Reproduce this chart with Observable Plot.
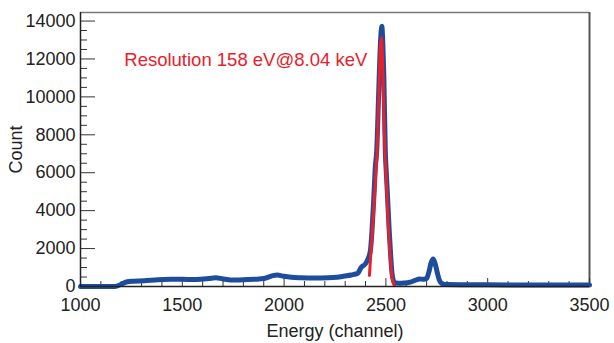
<!DOCTYPE html>
<html><head><meta charset="utf-8">
<script src="https://cdn.jsdelivr.net/npm/d3@7"></script>
<script src="https://cdn.jsdelivr.net/npm/@observablehq/plot@0.6"></script>
<style>body{margin:0;background:#fff}</style>
</head><body><div id="chart"></div>
<script>
const blueChannel = [1000,1100,1170,1200,1230,1260,1312,1380,1443,1500,1550,1590,1630,1664,1700,1755,1800,1853,1902,1940,1968,1990,2017,2050,2083,2150,2214,2260,2296,2330,2362,2378,2400,2412,2424,2432,2440,2448,2455,2461,2467,2474,2480,2485,2490,2497,2503,2509,2516,2522,2530,2542,2560,2590,2620,2645,2665,2685,2700,2712,2722,2732,2742,2752,2762,2775,2800,2900,3000,3200,3500];
const blueCount   = [0,0,0,120,250,280,300,360,380,380,370,380,420,460,400,340,350,380,420,560,600,560,510,470,460,450,460,490,550,610,700,1000,1200,1450,1900,3000,4540,6300,7180,9000,11050,13000,13720,12800,11050,7180,5800,4540,3000,1900,700,200,170,180,230,330,400,380,420,800,1250,1450,1200,750,350,160,100,90,90,80,80];
const redChannel = [2419,2427,2435,2443,2450,2457,2462,2468,2474,2478,2482,2486,2490,2495,2500,2506,2512,2519,2528,2537,2542];
const redCount   = [580,1900,3200,4540,5900,7180,9000,11050,12800,13100,12500,11050,9000,7180,6000,4540,3200,1900,700,150,50];
const xDomain = [1000, 3500];
const yDomain = [0, 14450];
const xMajor = [1000,1500,2000,2500,3000,3500];
const xMinor = [1100,1200,1300,1400,1600,1700,1800,1900,2100,2200,2300,2400,2600,2700,2800,2900,3100,3200,3300,3400];
const yMajor = [0,2000,4000,6000,8000,10000,12000,14000];
const yMinor = [500,1000,1500,2500,3000,3500,4500,5000,5500,6500,7000,7500,8500,9000,9500,10500,11000,11500,12500,13000,13500];
const noteText = ["Resolution 158 eV@8.04 keV"];
const noteX = [1215];
const noteY = [11950];

const W = 614, H = 343, mL = 80, mR = 25, mT = 12, mB = 57;
const pw = W - mL - mR, ph = H - mT - mB;
const blue = blueChannel.map((c, i) => ({c, v: blueCount[i]}));
const red = redChannel.map((c, i) => ({c, v: redCount[i]}));
const note = noteText.map((t, i) => ({t, x: noteX[i], y: noteY[i]}));

const chart = Plot.plot({
  width: W, height: H,
  marginLeft: mL, marginRight: mR, marginTop: mT, marginBottom: mB,
  style: {fontFamily: "'Liberation Sans', Arial, sans-serif", fontSize: "18px", color: "#222", background: "#fff"},
  x: {domain: xDomain},
  y: {domain: yDomain},
  marks: [
    Plot.ruleY([yDomain[1]], {stroke: "#777", strokeWidth: 1.5}),
    Plot.ruleX([xDomain[1]], {stroke: "#555", strokeWidth: 2}),
    Plot.tickY(yMinor, {y: d => d, insetRight: pw - 7, stroke: "#333"}),
    Plot.tickY(yMajor, {y: d => d, insetRight: pw - 15, stroke: "#333"}),
    Plot.tickX(xMinor, {x: d => d, insetTop: ph - 5, stroke: "#333"}),
    Plot.tickX(xMajor, {x: d => d, insetTop: ph - 8, stroke: "#333"}),
    Plot.axisX({ticks: xMajor, tickSize: 0, tickPadding: 12, tickFormat: d => String(d), label: "Energy (channel)", labelAnchor: "center", labelArrow: "none", labelOffset: 50, fontSize: 18}),
    Plot.axisY({ticks: yMajor, tickSize: 0, tickPadding: 5, tickFormat: d => String(d), label: "Count", labelAnchor: "center", labelArrow: "none", labelOffset: 71, fontSize: 18}),
    Plot.line(blue, {x: "c", y: "v", stroke: "#1f4d9e", strokeWidth: 5, curve: "monotone-x", strokeLinejoin: "round"}),
    Plot.line(red, {x: "c", y: "v", stroke: "#e8202a", strokeWidth: 3, curve: "monotone-x"}),
    Plot.ruleX([xDomain[0]], {stroke: "#222", strokeWidth: 1.5}),
    Plot.ruleY([yDomain[0]], {stroke: "#222", strokeWidth: 1.5}),
    Plot.text(note, {x: "x", y: "y", text: "t", textAnchor: "start", fill: "#e8202a", fontSize: 18.5})
  ]
});
document.getElementById("chart").appendChild(chart);
</script>
</body></html>
